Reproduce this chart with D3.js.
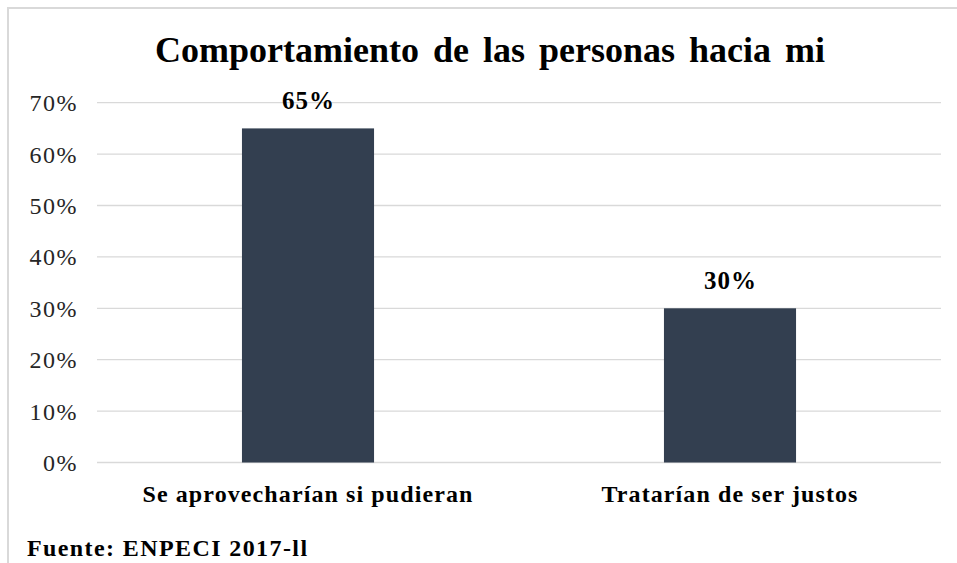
<!DOCTYPE html>
<html>
<head>
<meta charset="utf-8">
<script src="https://cdn.jsdelivr.net/npm/d3@7"></script>
<style>
  html, body { margin: 0; padding: 0; background: #fff; }
  svg { display: block; }
  text { font-family: "Liberation Serif", "Times New Roman", serif; }
</style>
</head>
<body>
<svg id="chart" width="957" height="563"></svg>
<script>
// Survey answers: how people would behave toward me
const categories = ["Se aprovecharían si pudieran", "Tratarían de ser justos"];
const values = [65, 30];
const valueLabels = ["65%", "30%"];
const yTicks = [0, 10, 20, 30, 40, 50, 60, 70];
const yTickLabels = ["0%", "10%", "20%", "30%", "40%", "50%", "60%", "70%"];
const title = "Comportamiento de las personas hacia mi";
const source = "Fuente: ENPECI 2017-ll";

const svg = d3.select("#chart");
const W = 957, H = 563;

// chart frame
svg.append("rect").attr("x", 0).attr("y", 0).attr("width", W).attr("height", H).attr("fill", "#fff");
svg.append("line").attr("x1", 7).attr("x2", W).attr("y1", 8).attr("y2", 8)
  .attr("stroke", "#d9d9d9").attr("stroke-width", 2);
svg.append("line").attr("x1", 8).attr("x2", 8).attr("y1", 8).attr("y2", H)
  .attr("stroke", "#d9d9d9").attr("stroke-width", 2);

const plot = { left: 97, right: 941, top: 102.7, bottom: 462.5 };

const x = d3.scaleBand()
  .domain(categories)
  .range([plot.left, plot.right])
  .paddingInner(0.687)
  .paddingOuter(0.3435);

const y = d3.scaleLinear()
  .domain([0, 70])
  .range([plot.bottom, plot.top]);

// gridlines
svg.append("g")
  .selectAll("line")
  .data(yTicks)
  .join("line")
  .attr("x1", plot.left).attr("x2", plot.right)
  .attr("y1", d => y(d)).attr("y2", d => y(d))
  .attr("stroke", "#d9d9d9").attr("stroke-width", 1.3);

// y axis labels
const yAxis = d3.axisLeft(y)
  .tickValues(yTicks)
  .tickFormat((d, i) => yTickLabels[i])
  .tickSize(0)
  .tickPadding(19);
const gy = svg.append("g").attr("transform", `translate(${plot.left},0)`).call(yAxis);
gy.select(".domain").remove();
gy.selectAll("text")
  .attr("font-family", "Liberation Serif, Times New Roman, serif")
  .attr("font-size", 24)
  .attr("letter-spacing", "1.5px")
  .attr("fill", "#262626")
  .attr("dy", "0.33em");

// bars
svg.append("g")
  .selectAll("rect")
  .data(values)
  .join("rect")
  .attr("x", (d, i) => x(categories[i]))
  .attr("width", x.bandwidth())
  .attr("y", d => y(d))
  .attr("height", d => y(0) - y(d))
  .attr("fill", "#333f50");

// value labels
svg.append("g")
  .selectAll("text")
  .data(values)
  .join("text")
  .attr("x", (d, i) => x(categories[i]) + x.bandwidth() / 2 + 0.5)
  .attr("y", d => y(d) - 19)
  .attr("text-anchor", "middle")
  .attr("font-size", 25)
  .attr("font-weight", "bold")
  .attr("letter-spacing", "1px")
  .attr("fill", "#000")
  .text((d, i) => valueLabels[i]);

// category axis labels
const xAxis = d3.axisBottom(x).tickSize(0).tickPadding(22);
const gx = svg.append("g").attr("transform", `translate(0,${plot.bottom})`).call(xAxis);
gx.select(".domain").remove();
gx.selectAll("text")
  .attr("font-family", "Liberation Serif, Times New Roman, serif")
  .attr("font-size", 24)
  .attr("font-weight", "bold")
  .attr("letter-spacing", "1.1px")
  .attr("fill", "#000");

// title
svg.append("text")
  .attr("x", 490).attr("y", 62)
  .attr("text-anchor", "middle")
  .attr("font-size", 36)
  .attr("font-weight", "bold")
  .attr("word-spacing", "5px")
  .attr("fill", "#000")
  .text(title);

// source note
svg.append("text")
  .attr("x", 27).attr("y", 556)
  .attr("font-size", 24)
  .attr("font-weight", "bold")
  .attr("letter-spacing", "1.4px")
  .attr("fill", "#000")
  .text(source);
</script>
</body>
</html>
